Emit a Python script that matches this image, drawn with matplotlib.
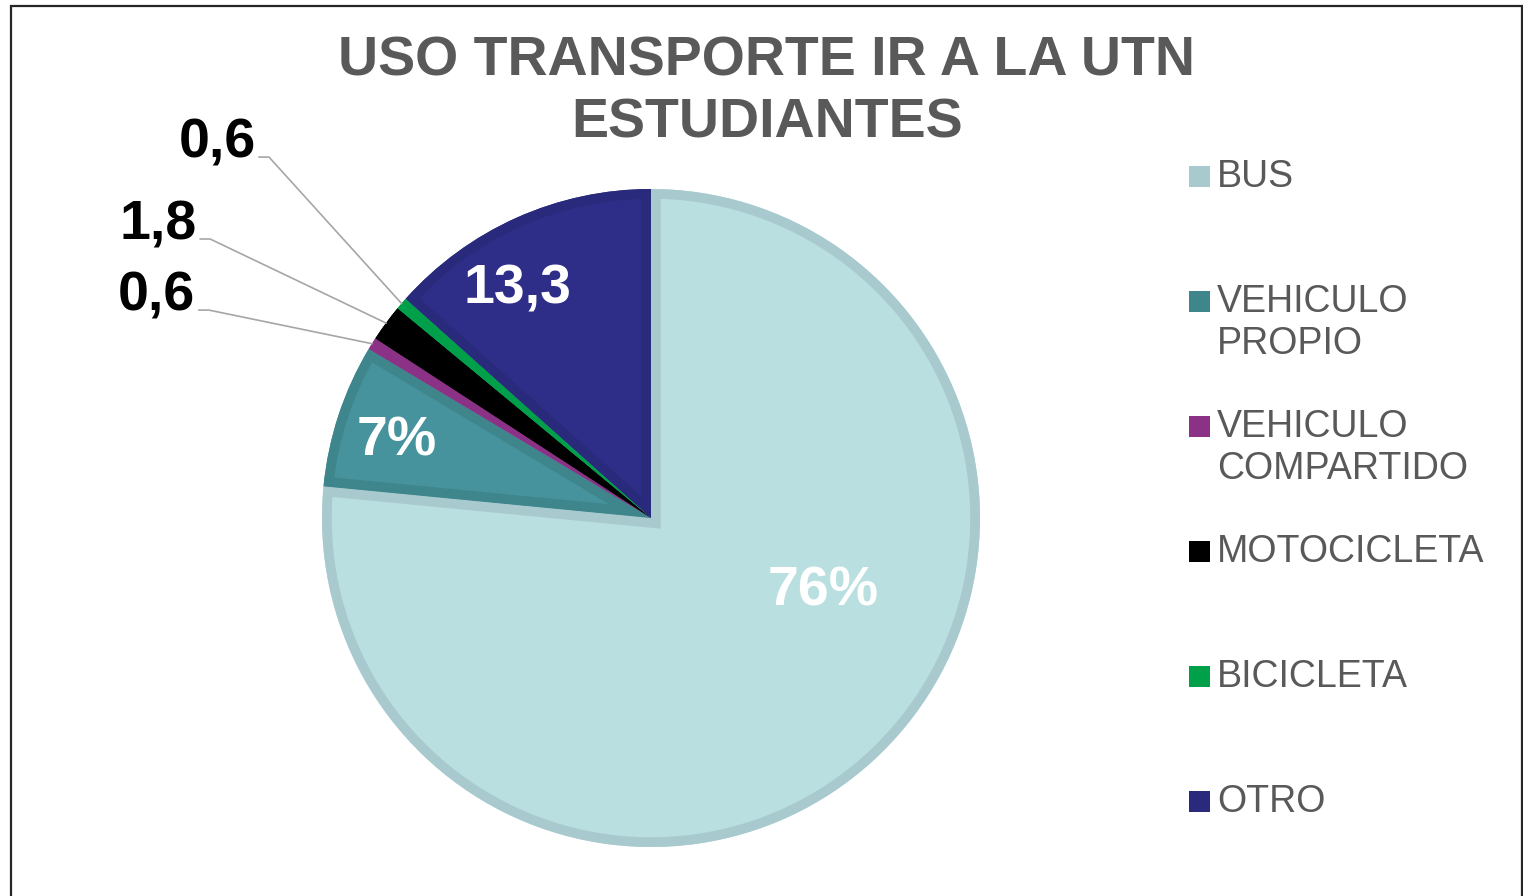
import matplotlib.pyplot as plt
from matplotlib.patches import Rectangle, Wedge
import numpy as np

plt.rcParams['font.family'] = ['Liberation Sans', 'DejaVu Sans']

categories = ['BUS', 'VEHICULO\nPROPIO', 'VEHICULO\nCOMPARTIDO', 'MOTOCICLETA', 'BICICLETA', 'OTRO']
values = [76, 7, 0.6, 1.8, 0.6, 13.3]
value_labels = ['76%', '7%', '0,6', '1,8', '0,6', '13,3']
face_colors = ['#b9dfe0', '#46939d', '#8b3287', '#000000', '#00a04b', '#2e2d88']
edge_colors = ['#a8c9cd', '#3e868c', '#8b3287', '#000000', '#00a04b', '#2a2a7c']
legend_colors = ['#a8c9cd', '#3e868c', '#8b3287', '#000000', '#00a04b', '#2a2a7c']

W, H = 1523, 896


def fx(px):
    return px / W


def fy(py):
    return 1 - py / H


fig = plt.figure(figsize=(15.23, 8.96), dpi=100)

# outer frame of the chart area
fig.patches.append(Rectangle((fx(11), -0.02), fx(1522) - fx(11), fy(6) + 0.02,
                             transform=fig.transFigure, fill=False,
                             edgecolor='#262626', lw=1.6))

# pie axes: centre (651, 518) px, radius 329 px
cx, cy, r = 651, 518, 329
ax = fig.add_axes([fx(cx - r), fy(cy + r), 2 * r / W, 2 * r / H])

wedges, _ = ax.pie(values, colors=face_colors, startangle=90, counterclock=False,
                   radius=1.0, wedgeprops=dict(linewidth=0))
ax.set_xlim(-1, 1)
ax.set_ylim(-1, 1)
ax.set_aspect('auto')
ax.axis('off')

# inner borders (Excel style) - drawn clipped to each wedge
for w, ec in zip(wedges, edge_colors):
    border = Wedge(w.center, w.r, w.theta1, w.theta2, fill=False,
                   edgecolor=ec, lw=14, joinstyle='miter')
    ax.add_patch(border)
    border.set_clip_path(w)

# labels inside the pie
inside = {0: (0.523, -0.222), 1: (-0.772, 0.234), 5: (-0.407, 0.696)}
for i, (x, y) in inside.items():
    ax.text(x, y, value_labels[i], color='white', fontsize=40, fontweight='bold',
            ha='center', va='center')

# labels outside with leader lines
outside = {4: (-1.319, 1.137), 3: (-1.498, 0.888), 2: (-1.502, 0.672)}
for i, (x, y) in outside.items():
    ax.text(x, y, value_labels[i], color='black', fontsize=40, fontweight='bold',
            ha='center', va='center')
    w = wedges[i]
    mid = np.deg2rad((w.theta1 + w.theta2) / 2)
    ex, ey = np.cos(mid), np.sin(mid)
    sx, sy = x + 0.128, y - 0.040
    ax.plot([sx, sx + 0.03, ex], [sy, sy, ey], color='#a6a6a6', lw=1.2,
            clip_on=False, solid_joinstyle='miter')

# title
fig.text(fx(767), fy(62), 'USO TRANSPORTE IR A LA UTN', ha='center', va='center',
         fontsize=40, fontweight='bold', color='#595959')
fig.text(fx(767), fy(123), 'ESTUDIANTES', ha='center', va='center',
         fontsize=40, fontweight='bold', color='#595959')

# legend
leg_y0, leg_step, line_step = 177, 125, 42
for k, (lab, col) in enumerate(zip(categories, legend_colors)):
    y = leg_y0 + k * leg_step
    fig.patches.append(Rectangle((fx(1189), fy(y + 10)), 21 / W, 21 / H,
                                 transform=fig.transFigure, facecolor=col,
                                 edgecolor='none'))
    for j, line in enumerate(lab.split('\n')):
        fig.text(fx(1217), fy(y + j * line_step), line, ha='left', va='center',
                 fontsize=27, color='#595959')

fig.savefig('out.png', dpi=100)
